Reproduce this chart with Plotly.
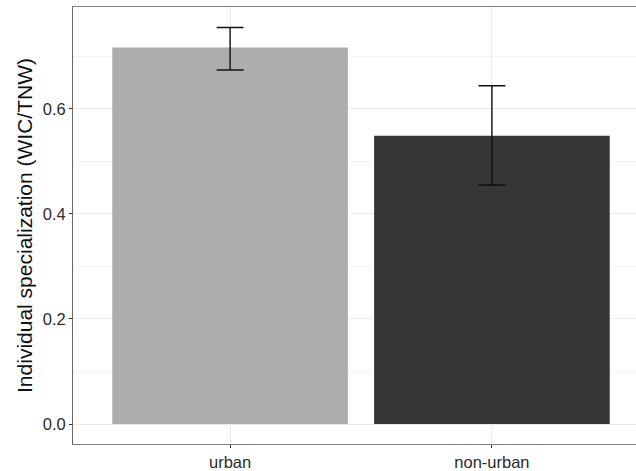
import plotly.graph_objects as go

categories = ["urban", "non-urban"]
means = [0.717, 0.549]
upper = [0.755, 0.644]
lower = [0.674, 0.455]
colors = ["#ADADAD", "#363636"]
y_ticks = [0.0, 0.2, 0.4, 0.6]
y_tick_labels = ["0.0", "0.2", "0.4", "0.6"]
y_minor = [0.1, 0.3, 0.5, 0.7]

err_plus = [u - m for u, m in zip(upper, means)]
err_minus = [m - l for m, l in zip(means, lower)]

fig = go.Figure()
fig.add_trace(go.Bar(
    x=categories, y=means, width=0.9,
    marker=dict(color=colors, line=dict(width=0)),
    error_y=dict(type="data", array=err_plus, arrayminus=err_minus,
                 color="#111111", thickness=1.4, width=13.5, symmetric=False),
    showlegend=False,
))

fig.update_layout(
    width=636, height=471,
    margin=dict(l=73, r=0, t=7, b=27, autoexpand=False),
    paper_bgcolor="white", plot_bgcolor="white",
    font=dict(family="Liberation Sans, Arial, sans-serif", color="#333333"),
)
fig.update_xaxes(
    range=[-0.6, 1.5503], automargin=False,
    showgrid=True, gridcolor="#EBEBEB", gridwidth=1,
    showline=True, linecolor="#7F7F7F", linewidth=1, mirror=True,
    ticks="outside", ticklen=3, tickcolor="#333333",
    tickfont=dict(size=16.5, color="#2B2B2B"), zeroline=False,
)
fig.update_yaxes(
    range=[-0.038, 0.794], automargin=False,
    tickvals=y_ticks, ticktext=y_tick_labels,
    showgrid=True, gridcolor="#EBEBEB", gridwidth=1,
    minor=dict(tickvals=y_minor, showgrid=True, gridcolor="#F3F3F3", gridwidth=1),
    showline=True, linecolor="#666666", linewidth=1, mirror=False,
    ticks="outside", ticklen=3, tickcolor="#333333",
    tickfont=dict(size=16.5, color="#2B2B2B"), zeroline=False,
    title=dict(text="Individual specialization (WIC/TNW)", font=dict(size=21, color="#111111"), standoff=4),
)

fig.write_html(
    "out.html",
    config={"displayModeBar": False},
    post_script="document.body.style.margin='0';document.body.style.overflow='hidden';",
)
